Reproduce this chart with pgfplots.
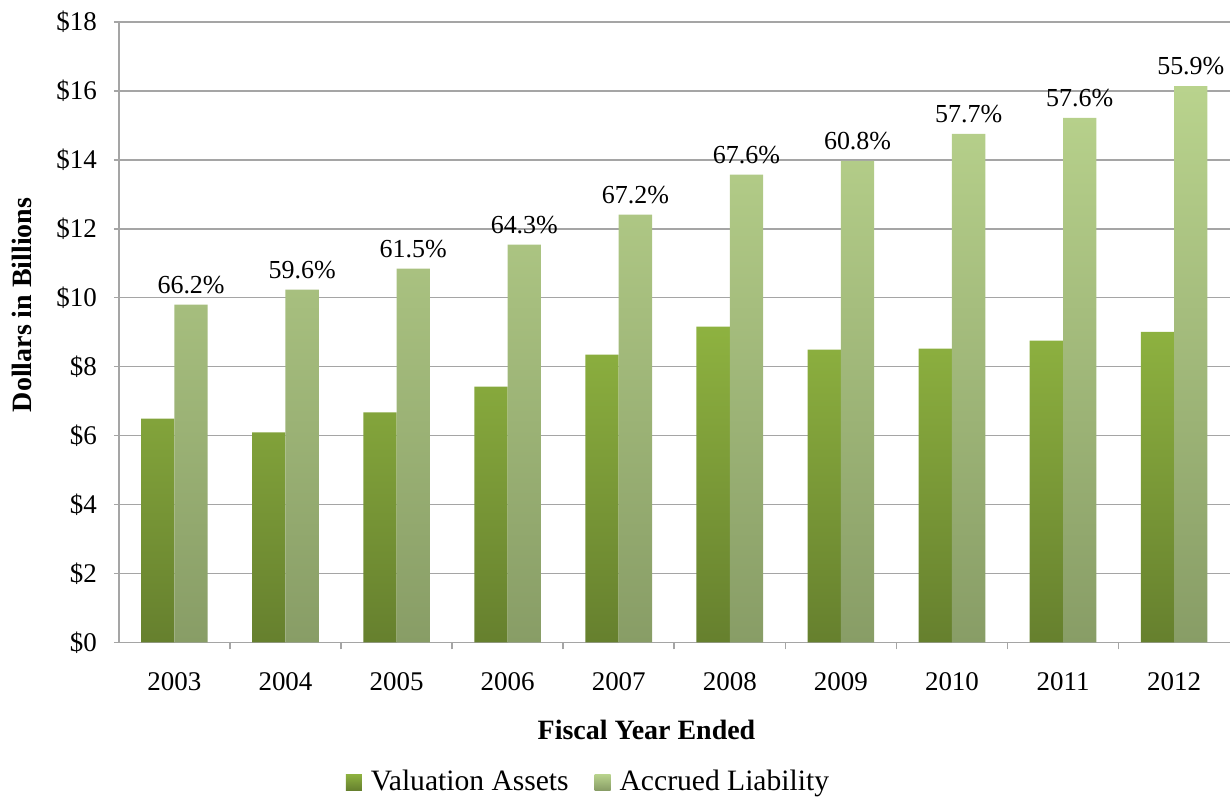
\documentclass[border=0pt]{standalone}
\usepackage{fontspec}
\setmainfont{Liberation Serif}
\usepackage{pgfplots}
\pgfplotsset{compat=1.18}
\definecolor{vaTop}{RGB}{142,178,64}
\definecolor{vaBot}{RGB}{102,128,46}
\definecolor{alTop}{RGB}{185,211,141}
\definecolor{alBot}{RGB}{136,157,102}
\definecolor{gridc}{RGB}{165,165,165}
\pgfplotstableread{
x va al lab
0 6.49 9.80 66.2
1 6.09 10.23 59.6
2 6.67 10.84 61.5
3 7.42 11.54 64.3
4 8.35 12.41 67.2
5 9.16 13.57 67.6
6 8.49 13.97 60.8
7 8.52 14.75 57.7
8 8.75 15.22 57.6
9 9.01 16.14 55.9
}\datatable
\begin{document}
\begin{tikzpicture}
\begin{axis}[
  scale only axis, width=556pt, height=310.5pt,
  ybar=0pt, bar width=0.3,
  xmin=-0.5, xmax=9.5, ymin=0, ymax=18,
  xtick={0,...,9},
  xticklabels={2003,2004,2005,2006,2007,2008,2009,2010,2011,2012},
  minor xtick={0.5,1.5,...,8.5},
  major x tick style={draw=none},
  minor x tick style={gridc, line width=0.8pt},
  minor tick length=3.5pt,
  major tick length=2.5pt,
  tick align=outside,
  ytick={0,2,...,18},
  yticklabel={\$\pgfmathprintnumber{\tick}},
  /pgf/number format/assume math mode=true,
  ymajorgrids,
  grid style={gridc, line width=0.8pt},
  y tick style={gridc, line width=0.8pt},
  axis x line*=bottom, axis y line*=left,
  axis line style={gridc, line width=0.8pt},
  ticklabel style={font=\fontsize{13.5}{15}\selectfont},
  xticklabel style={yshift=-9pt},
  yticklabel style={xshift=-5pt},
  xlabel={\bfseries Fiscal Year Ended},
  ylabel={\bfseries Dollars in Billions},
  every axis x label/.style={at={(axis description cs:0.475,0)}, yshift=-44pt, anchor=center, font=\fontsize{14}{16}\selectfont},
  every axis y label/.style={at={(axis description cs:0,0.544)}, xshift=-48.5pt, rotate=90, anchor=center, font=\fontsize{14}{16}\selectfont},
  legend style={at={(axis description cs:0.4236,0)}, yshift=-70pt, anchor=center, draw=none, fill=none,
     legend columns=2, font=\fontsize{14.8}{16}\selectfont,
     /tikz/every even column/.append style={column sep=11pt}},
  legend image code/.code={\path[#1, draw=none] (0pt,-4pt) rectangle (8pt,4pt); \path (0pt,0pt) -- (10.5pt,0pt);},
  nodes near coords style={font=\fontsize{13}{15}\selectfont, text=black, yshift=2pt},
]
\addplot[draw=none, top color=vaTop, bottom color=vaBot] table[x=x, y=va] {\datatable};
\addlegendentry{Valuation Assets}
\addplot[draw=none, top color=alTop, bottom color=alBot,
   point meta=explicit symbolic, nodes near coords={\pgfplotspointmeta\%}] table[x=x, y=al, meta=lab] {\datatable};
\addlegendentry{Accrued Liability}
\end{axis}
\path (current axis.south west) ++(-59.5pt,-78.5pt) rectangle ([yshift=11pt]current axis.north east);
\end{tikzpicture}
\end{document}
